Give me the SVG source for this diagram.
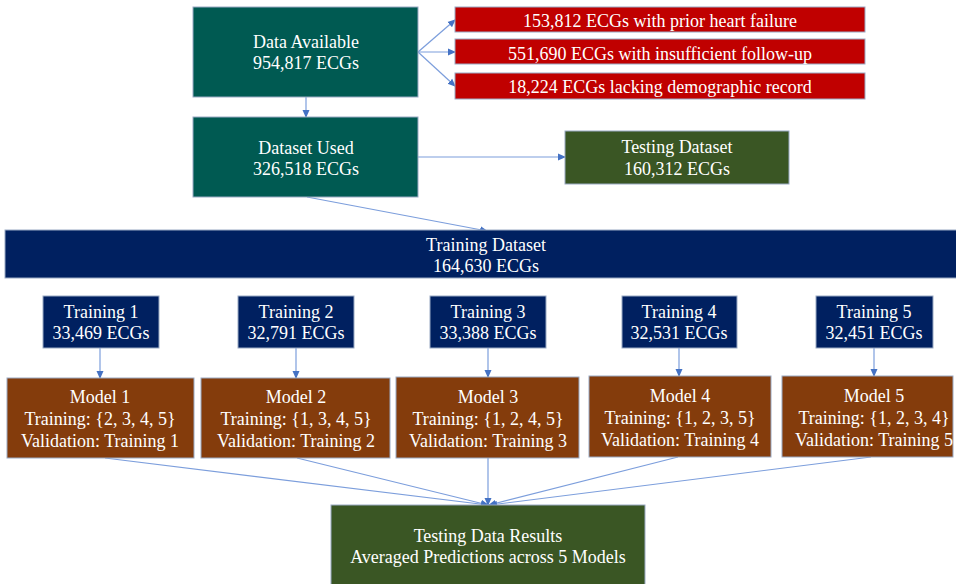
<svg xmlns="http://www.w3.org/2000/svg" width="956" height="584" viewBox="0 0 956 584">
<defs>
<marker id="ah" markerWidth="8" markerHeight="8" refX="7" refY="4" orient="auto" markerUnits="userSpaceOnUse">
<path d="M0,0.5 L8,4 L0,7.5 Z" fill="#4472C4"/>
</marker>
<style>
.b{stroke:#9AAAC4;stroke-width:1}
.teal{fill:#005A52}
.red{fill:#C00000}
.grn{fill:#3A5624}
.navy{fill:#002060}
.brn{fill:#843C0C}
text{font-family:"Liberation Serif","Times New Roman",serif;fill:#FFFFFF;text-anchor:middle;font-size:18px}
.c{stroke:#7C9EDC;stroke-width:1.2;fill:none;marker-end:url(#ah)}
</style>
</defs>
<rect width="956" height="584" fill="#FFFFFF"/>
<g id="connectors">
<line class="c" x1="306" y1="97" x2="306" y2="117"/>
<line class="c" x1="418" y1="52" x2="455" y2="20"/>
<line class="c" x1="418" y1="52" x2="455" y2="52"/>
<line class="c" x1="418" y1="52" x2="455" y2="86"/>
<line class="c" x1="418" y1="157" x2="565" y2="157"/>
<line class="c" x1="307" y1="197" x2="487" y2="231"/>
<line class="c" x1="100" y1="348" x2="100" y2="378"/>
<line class="c" x1="296" y1="348" x2="296" y2="378"/>
<line class="c" x1="488" y1="348" x2="488" y2="377"/>
<line class="c" x1="679" y1="348" x2="679" y2="376"/>
<line class="c" x1="874" y1="348" x2="874" y2="376"/>
<line class="c" x1="105" y1="458" x2="488" y2="505"/>
<line class="c" x1="297" y1="458" x2="488" y2="505"/>
<line class="c" x1="488" y1="458" x2="488" y2="505"/>
<line class="c" x1="678" y1="457" x2="489" y2="505"/>
<line class="c" x1="871" y1="457" x2="490" y2="505"/>
</g>
<g id="data-available">
<rect class="b teal" x="193" y="7" width="225" height="90"/>
<text x="306" y="48">Data Available</text>
<text x="306" y="69">954,817 ECGs</text>
</g>
<g id="excl-1">
<rect class="b red" x="455" y="7" width="410" height="25"/>
<text x="660" y="27">153,812 ECGs with prior heart failure</text>
</g>
<g id="excl-2">
<rect class="b red" x="455" y="39" width="410" height="25"/>
<text x="660" y="60">551,690 ECGs with insufficient follow-up</text>
</g>
<g id="excl-3">
<rect class="b red" x="455" y="73" width="410" height="26"/>
<text x="660" y="93">18,224 ECGs lacking demographic record</text>
</g>
<g id="dataset-used">
<rect class="b teal" x="193" y="117" width="225" height="80"/>
<text x="306" y="154">Dataset Used</text>
<text x="306" y="175">326,518 ECGs</text>
</g>
<g id="testing-dataset">
<rect class="b grn" x="565" y="131" width="224" height="53"/>
<text x="677" y="153">Testing Dataset</text>
<text x="677" y="175">160,312 ECGs</text>
</g>
<g id="training-dataset">
<rect class="b navy" x="5" y="230" width="960" height="48"/>
<text x="486" y="251">Training Dataset</text>
<text x="486" y="272">164,630 ECGs</text>
</g>
<g id="training-1">
<rect class="b navy" x="43" y="296" width="116" height="52"/>
<text x="101" y="318">Training 1</text>
<text x="101" y="339">33,469 ECGs</text>
</g>
<g id="training-2">
<rect class="b navy" x="238" y="296" width="116" height="52"/>
<text x="296" y="318">Training 2</text>
<text x="296" y="339">32,791 ECGs</text>
</g>
<g id="training-3">
<rect class="b navy" x="430" y="296" width="116" height="52"/>
<text x="488" y="318">Training 3</text>
<text x="488" y="339">33,388 ECGs</text>
</g>
<g id="training-4">
<rect class="b navy" x="622" y="296" width="115" height="52"/>
<text x="679" y="318">Training 4</text>
<text x="679" y="339">32,531 ECGs</text>
</g>
<g id="training-5">
<rect class="b navy" x="816" y="296" width="117" height="52"/>
<text x="874" y="318">Training 5</text>
<text x="874" y="339">32,451 ECGs</text>
</g>
<g id="model-1">
<rect class="b brn" x="7" y="378" width="187" height="80"/>
<text x="100" y="403">Model 1</text>
<text x="100" y="425">Training: {2, 3, 4, 5}</text>
<text x="100" y="447">Validation: Training 1</text>
</g>
<g id="model-2">
<rect class="b brn" x="201" y="378" width="189" height="80"/>
<text x="296" y="403">Model 2</text>
<text x="296" y="425">Training: {1, 3, 4, 5}</text>
<text x="296" y="447">Validation: Training 2</text>
</g>
<g id="model-3">
<rect class="b brn" x="396" y="377" width="183" height="81"/>
<text x="488" y="403">Model 3</text>
<text x="488" y="425">Training: {1, 2, 4, 5}</text>
<text x="488" y="447">Validation: Training 3</text>
</g>
<g id="model-4">
<rect class="b brn" x="589" y="376" width="182" height="81"/>
<text x="680" y="402">Model 4</text>
<text x="680" y="424">Training: {1, 2, 3, 5}</text>
<text x="680" y="446">Validation: Training 4</text>
</g>
<g id="model-5">
<rect class="b brn" x="782" y="376" width="171" height="81"/>
<text x="874" y="402">Model 5</text>
<text x="874" y="424">Training: {1, 2, 3, 4}</text>
<text x="874" y="446">Validation: Training 5</text>
</g>
<g id="testing-results">
<rect class="b grn" x="331" y="505" width="314" height="90"/>
<text x="488" y="542">Testing Data Results</text>
<text x="488" y="563">Averaged Predictions across 5 Models</text>
</g>
</svg>
